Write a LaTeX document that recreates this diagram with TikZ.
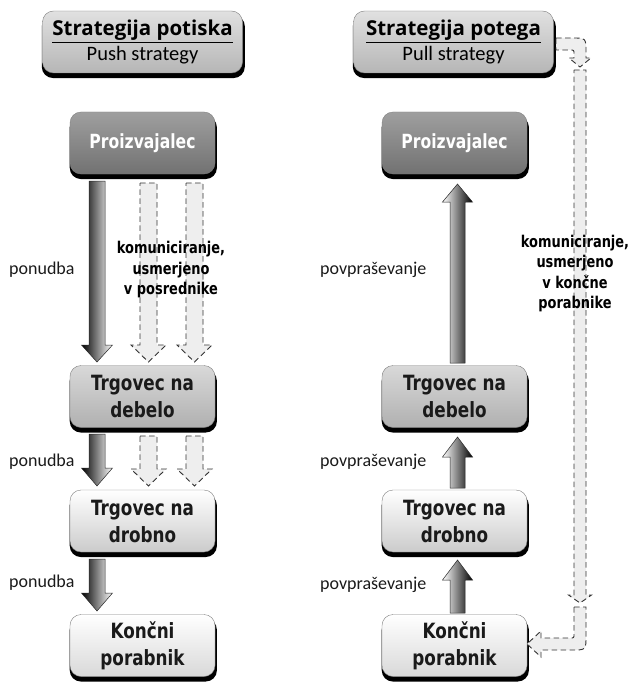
\documentclass[tikz,border=0pt]{standalone}
\usepackage{fontspec}
\setmainfont{Carlito}
\newfontfamily\headfont{Open Sans}
\newfontfamily\boxfont{DejaVu Sans}[FakeStretch=0.8]
\usetikzlibrary{shadows}

\definecolor{titlegray}{HTML}{D6D6D6}
\definecolor{prodgray}{HTML}{8E8E8E}
\definecolor{wholegray}{HTML}{CFCFCF}
\definecolor{retailgray}{HTML}{EFEFEF}
\definecolor{dashfill}{HTML}{EEEEEE}
\definecolor{inkgray}{HTML}{1A1A1A}

% straight block arrow: [style]{centre x}{start y}{head base y}{tip y}{shaft half width}{head half width}
\newcommand{\fatarr}[7][]{%
  \path[#1] (#2-#6,#3) -- (#2+#6,#3) -- (#2+#6,#4) -- (#2+#7,#4) -- (#2,#5)
    -- (#2-#7,#4) -- (#2-#6,#4) -- cycle;}

\begin{document}
\begin{tikzpicture}[x=1pt,y=-1pt,
  panel/.style={rounded corners=11pt, minimum width=145pt, minimum height=62pt,
    align=center, inner sep=0pt, draw=black!50, line width=0.4pt,
    drop shadow={shadow xshift=0.8pt, shadow yshift=-4.5pt, shadow scale=1.015, opacity=1, fill=black}},
  headpanel/.style={panel, minimum width=200pt, minimum height=62pt,
    top color=titlegray!75!white, bottom color=titlegray!85!black},
  boxtext/.style={font=\boxfont\bfseries\fontsize{21}{27}\selectfont, text=inkgray},
  pushflow/.style={left color=black, middle color=black!30, right color=white, draw=black!85, line width=0.5pt},
  pullflow/.style={left color=white, middle color=black!30, right color=black, draw=black!85, line width=0.5pt},
  commflow/.style={fill=dashfill, draw=black!80, dash pattern=on 5.5pt off 3.5pt, line width=0.9pt},
  flowlabel/.style={font=\fontsize{18}{20}\selectfont, text=inkgray, anchor=west, inner sep=0pt},
  commlabel/.style={font=\boxfont\bfseries\fontsize{16.2}{20.5}\selectfont, text=black, align=center, inner sep=0pt}
]
\useasboundingbox (0,0) rectangle (636,682);

% ---------- headings ----------
\node[headpanel] (pushhead) at (142.5,42)
  {{\headfont\bfseries\fontsize{20.5}{24}\selectfont\underline{Strategija potiska}}\\[3pt]
   {\fontsize{20.5}{24}\selectfont Push strategy}};
\node[headpanel] (pullhead) at (453.5,42)
  {{\headfont\bfseries\fontsize{20.5}{24}\selectfont\underline{Strategija potega}}\\[3pt]
   {\fontsize{20.5}{24}\selectfont Pull strategy}};

% ---------- push column ----------
\node[panel, boxtext, top color=prodgray!85!white, bottom color=prodgray!80!black,
  text=white, font=\boxfont\bfseries\fontsize{19.5}{24}\selectfont] (lp) at (142.5,143) {Proizvajalec};
\node[panel, boxtext, top color=wholegray!80!white, bottom color=wholegray!85!black] (lw) at (142.5,396.5) {Trgovec na\\debelo};
\node[panel, boxtext, top color=white, bottom color=retailgray!85!black] (lr) at (142.5,521) {Trgovec na\\drobno};
\node[panel, boxtext, top color=white, bottom color=white!85!black] (lc) at (142.5,645.5) {Končni\\porabnik};

% ---------- pull column ----------
\node[panel, boxtext, top color=prodgray!85!white, bottom color=prodgray!80!black,
  text=white, font=\boxfont\bfseries\fontsize{19.5}{24}\selectfont] (rp) at (454.5,143) {Proizvajalec};
\node[panel, boxtext, top color=wholegray!80!white, bottom color=wholegray!85!black] (rw) at (454.5,396.5) {Trgovec na\\debelo};
\node[panel, boxtext, top color=white, bottom color=retailgray!85!black] (rr) at (454.5,521) {Trgovec na\\drobno};
\node[panel, boxtext, top color=white, bottom color=white!85!black] (rc) at (454.5,645.5) {Končni\\porabnik};

% ---------- push flows (offer, downwards) ----------
\fatarr[pushflow]{97}{181}{345}{362}{8}{15.5}
\fatarr[pushflow]{97}{434}{468}{486}{8}{15.5}
\fatarr[pushflow]{97}{559}{593}{611}{8}{15.5}

% communication aimed at intermediaries
\fatarr[commflow]{148.5}{183}{345}{362}{8.5}{17.5}
\fatarr[commflow]{194.5}{183}{345}{362}{8.5}{17.5}
\fatarr[commflow]{148.5}{436}{469}{486}{8.5}{17.5}
\fatarr[commflow]{194.5}{436}{469}{486}{8.5}{17.5}

% ---------- pull flows (demand, upwards) ----------
\fatarr[pullflow]{457.5}{363}{202}{184}{7.5}{15}
\fatarr[pullflow]{457.5}{488}{457}{437}{7.5}{15}
\fatarr[pullflow]{457.5}{613}{580}{560}{7.5}{15}

% communication aimed at end consumers
\path[commflow] (556,38) -- (572,38) .. controls (586,38) .. (586,52) -- (586,58)
  -- (591,58) -- (580,67) -- (569,58) -- (574,58) -- (574,54)
  .. controls (574,50) .. (570,50) -- (556,50) -- cycle;
\fatarr[commflow]{580}{70}{595}{603}{6}{11.5}
\path[commflow] (574,607) -- (586,607) -- (586,636) .. controls (586,650) .. (572,650)
  -- (541,650) -- (541,657) -- (527,644) -- (541,631) -- (541,638) -- (570,638)
  .. controls (574,638) .. (574,634) -- cycle;

% ---------- labels ----------
\node[flowlabel] (lo1) at (9,270) {ponudba};
\node[flowlabel] (lo2) at (9,462) {ponudba};
\node[flowlabel] (lo3) at (9,583) {ponudba};
\node[flowlabel] (rd1) at (320,270) {povpraševanje};
\node[flowlabel] (rd2) at (320,462) {povpraševanje};
\node[flowlabel] (rd3) at (320,585) {povpraševanje};

\node[commlabel] (lcomm) at (171,270) {komuniciranje,\\usmerjeno\\v posrednike};
\node[commlabel] (rcomm) at (575,273.5) {komuniciranje,\\usmerjeno\\v končne\\porabnike};
\end{tikzpicture}
\end{document}
